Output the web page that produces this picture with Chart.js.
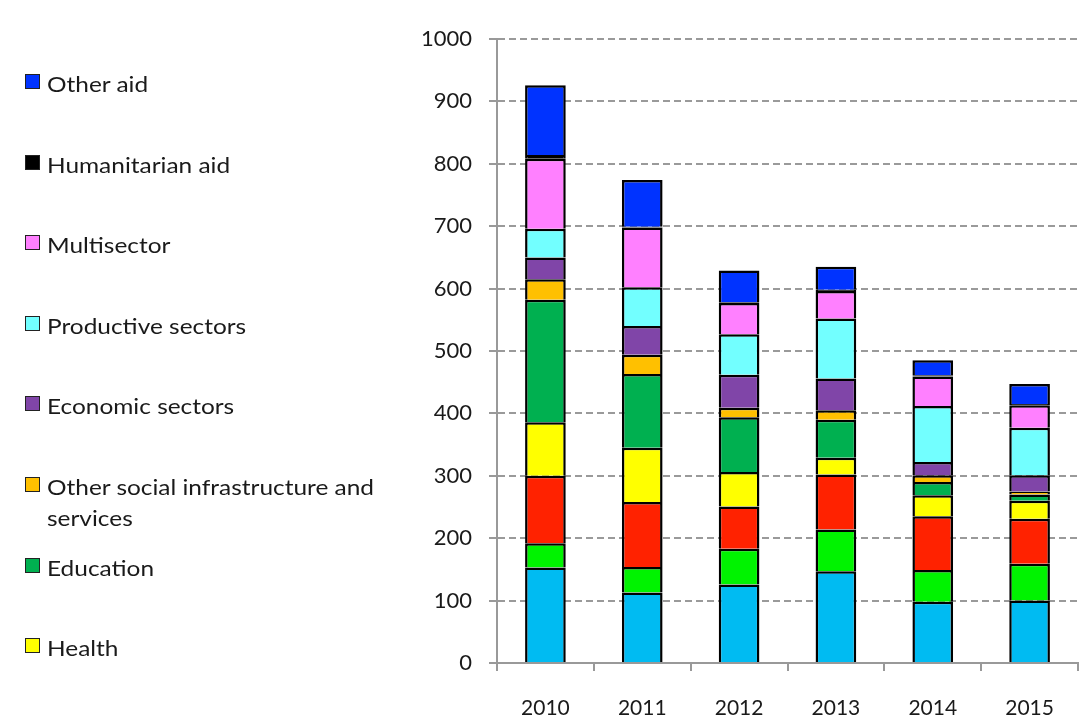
<!DOCTYPE html>
<html>
<head>
<meta charset="utf-8">
<script src="https://cdn.jsdelivr.net/npm/chart.js@4.4.1/dist/chart.umd.min.js"></script>
<style>
  html, body { margin: 0; padding: 0; background: #fff; }
  #wrap { position: relative; width: 1080px; height: 721px; overflow: hidden; }
  #chart { position: absolute; left: 0; top: 0; }
  .item { position: absolute; left: 25px; font-family: Lato, sans-serif; font-size: 22px; line-height: 31px; color: #1a1a1a; }
  .item .box { position: absolute; left: 0; top: 6px; width: 13px; height: 13px; border: 1px solid #222; }
  .item .txt { position: absolute; left: 22px; top: 0; width: 310px; transform: scaleX(1.11); transform-origin: left top; }
</style>
</head>
<body>
<div id="wrap">
  <canvas id="chart" width="1080" height="721"></canvas>
</div>
<script>
// categories
const years = ['2010', '2011', '2012', '2013', '2014', '2015'];

// series values, bottom of the stack first
const govCivil      = [153, 113, 126, 147,  98, 100];
const water         = [ 39,  41,  57,  67,  51,  59];
const population    = [108, 104,  68,  88,  86,  72];
const health        = [ 86,  87,  55,  27,  34,  29];
const education     = [196, 118,  88,  61,  21,  10];
const otherSocial   = [ 33,  31,  15,  15,  11,   5];
const economic      = [ 35,  46,  53,  51,  21,  26];
const productive    = [ 46,  62,  65,  96,  90,  76];
const multisector   = [112,  96,  50,  44,  47,  36];
const humanitarian  = [  6,   1,   1,   2,   2,   2];
const otherAid      = [112,  75,  51,  37,  24,  32];

const yTicks = [0, 100, 200, 300, 400, 500, 600, 700, 800, 900, 1000];

const seriesNames = [
  'Government and civil society', 'Water supply and sanitation', 'Population and reproductive health',
  'Health', 'Education', 'Other social infrastructure and services', 'Economic sectors',
  'Productive sectors', 'Multisector', 'Humanitarian aid', 'Other aid'
];
const seriesData = [govCivil, water, population, health, education, otherSocial,
  economic, productive, multisector, humanitarian, otherAid];
const seriesColors = ['#00bbf2', '#00f300', '#ff2200', '#ffff00', '#00b050', '#ffc000',
  '#8045a8', '#72ffff', '#ff80ff', '#000000', '#0033ff'];
// only the top 8 entries fit in the picture's legend
const legendCount = 8;

const ctx = document.getElementById('chart').getContext('2d');

const chart = new Chart(ctx, {
  type: 'bar',
  data: {
    labels: years,
    datasets: seriesNames.map((name, i) => ({
      label: name,
      data: seriesData[i],
      backgroundColor: seriesColors[i],
      borderColor: '#000',
      borderWidth: 2.5,
      categoryPercentage: 1,
      barPercentage: 0.42
    }))
  },
  options: {
    responsive: false,
    animation: false,
    layout: { padding: { top: 39, right: 2, left: 0, bottom: 0 } },
    plugins: { legend: { display: false }, tooltip: { enabled: false } },
    scales: {
      x: {
        stacked: true,
        border: { color: '#999', width: 2 },
        grid: { drawOnChartArea: false, drawTicks: true, tickLength: 8, color: '#999', lineWidth: 2, offset: true },
        ticks: { color: '#1a1a1a', font: { family: 'Lato', size: 21 }, padding: 25 },
        afterFit: s => { s.height = 58; }
      },
      y: {
        stacked: true,
        min: 0,
        max: 1000,
        afterBuildTicks: s => { s.ticks = yTicks.map(v => ({ value: v })); },
        border: { color: '#999', width: 2, dash: [7, 4] },
        grid: {
          color: c => c.tick && c.tick.value === 0 ? 'rgba(0,0,0,0)' : '#9a9a9a',
          lineWidth: 2,
          tickBorderDash: [],
          tickColor: '#999',
          tickLength: 8
        },
        ticks: { color: '#1a1a1a', font: { family: 'Lato', size: 22 }, padding: 17, callback: v => String(v) },
        afterFit: s => { s.width = 497; }
      }
    }
  }
});

// html legend, top of the stack first
const wrap = document.getElementById('wrap');
for (let k = 0; k < legendCount; k++) {
  const i = seriesNames.length - 1 - k;
  const item = document.createElement('div');
  item.className = 'item';
  item.style.top = (68 + k * 80.6) + 'px';
  const box = document.createElement('div');
  box.className = 'box';
  box.style.background = seriesColors[i];
  const txt = document.createElement('div');
  txt.className = 'txt';
  txt.textContent = seriesNames[i];
  item.appendChild(box);
  item.appendChild(txt);
  wrap.appendChild(item);
}
</script>
</body>
</html>
